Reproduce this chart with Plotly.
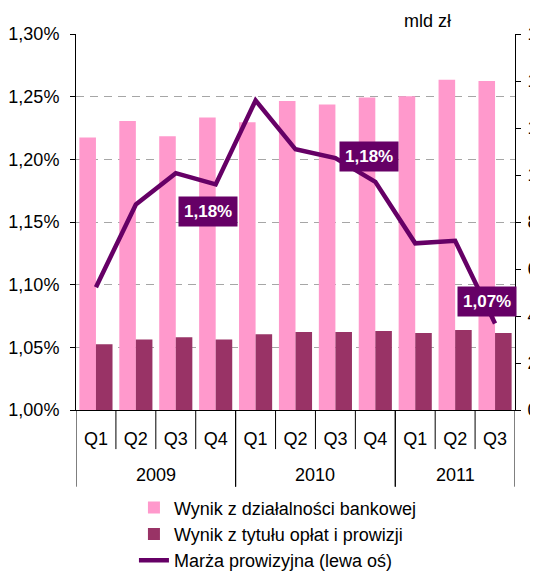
import plotly.graph_objects as go

years = ["2009"] * 4 + ["2010"] * 4 + ["2011"] * 3
quarters = ["Q1", "Q2", "Q3", "Q4", "Q1", "Q2", "Q3", "Q4", "Q1", "Q2", "Q3"]

wynik_bankowy = [11.6, 12.3, 11.65, 12.45, 12.25, 13.15, 13.0, 13.3, 13.35, 14.05, 14.0]
wynik_prowizje = [2.8, 3.0, 3.1, 3.0, 3.22, 3.32, 3.32, 3.36, 3.28, 3.4, 3.28]
marza = [1.098, 1.164, 1.189, 1.180, 1.247, 1.208, 1.201, 1.182, 1.133, 1.135, 1.069]

label_idx = [3, 7, 10]
label_text = ["1,18%", "1,18%", "1,07%"]
label_shift = [(-8, -27), (-6, 25), (-8, 22)]

left_ticks = [1.00, 1.05, 1.10, 1.15, 1.20, 1.25, 1.30]
left_ticktext = ["1,00%", "1,05%", "1,10%", "1,15%", "1,20%", "1,25%", "1,30%"]
right_ticks = [0, 2, 4, 6, 8, 10, 12, 14, 16]
right_ticktext = ["0", "2", "4", "6", "8", "1", "1", "1", "1"]

FONT = "Arial, Liberation Sans, sans-serif"
idx = list(range(len(quarters)))

fig = go.Figure()
fig.add_trace(go.Bar(x=idx, y=wynik_bankowy, name="Wynik z działalności bankowej",
                     marker=dict(color="#FF99CC", line=dict(width=0)), yaxis="y"))
fig.add_trace(go.Bar(x=idx, y=wynik_prowizje, name="Wynik z tytułu opłat i prowizji",
                     marker=dict(color="#993366", line=dict(width=0)), yaxis="y"))
fig.add_trace(go.Scatter(x=idx, y=marza, name="Marża prowizyjna (lewa oś)", mode="lines",
                         line=dict(color="#660066", width=4.5), yaxis="y2"))

for i, t, (dx, dy) in zip(label_idx, label_text, label_shift):
    fig.add_annotation(x=i, y=marza[i], xref="x", yref="y2", text="<b>" + t + "</b>",
                       showarrow=False, xshift=dx, yshift=dy, bgcolor="#660066",
                       borderpad=5, font=dict(family=FONT, size=17, color="white"))

fig.add_annotation(x=1, y=1, xref="paper", yref="paper", xanchor="right", yanchor="bottom",
                   yshift=1, xshift=-62, text="mld zł", showarrow=False,
                   font=dict(family=FONT, size=18, color="black"))

# year groups: labels and separators
groups = []
for i, yv in enumerate(years):
    if not groups or groups[-1][0] != yv:
        groups.append([yv, i, i])
    else:
        groups[-1][2] = i
for yv, a, b in groups:
    fig.add_annotation(x=(a + b) / 2, y=-0.174, xref="x", yref="paper", text=yv,
                       showarrow=False, yanchor="middle",
                       font=dict(family=FONT, size=18, color="black"))
    for bx in (a - 0.5, b + 0.5):
        fig.add_shape(type="line", xref="x", yref="paper", x0=bx, x1=bx, y0=0, y1=-0.204,
                      line=dict(color="black", width=1))

# the page places the figure 8px from the top-left corner of the window;
# the figure is taller than the window so the legend is not clipped by plotly
fig.update_layout(
    width=530, height=600,
    margin=dict(l=68, r=23, t=26, b=198, autoexpand=False),
    paper_bgcolor="white", plot_bgcolor="white",
    barmode="group", bargap=0.17, bargroupgap=0,
    font=dict(family=FONT, size=18, color="black"),
    showlegend=True,
    legend=dict(x=0.132, y=-0.211, xanchor="left", yanchor="top",
                font=dict(family=FONT, size=18, color="black"),
                tracegroupgap=0, bgcolor="rgba(0,0,0,0)"),
    xaxis=dict(type="linear", range=[-0.5, len(quarters) - 0.5], tickvals=idx, ticktext=quarters,
               showline=True, linecolor="black", linewidth=1, ticks="", showgrid=False,
               zeroline=False, ticklabelstandoff=12,
               tickfont=dict(family=FONT, size=18, color="black")),
    yaxis=dict(side="right", range=[0, 16], tickvals=right_ticks, ticktext=right_ticktext,
               showline=True, linecolor="black", ticks="outside", ticklen=5, tickcolor="black",
               showgrid=False, zeroline=False, ticklabelstandoff=3,
               tickfont=dict(family=FONT, size=18, color="black")),
    yaxis2=dict(side="left", overlaying="y", range=[1.0, 1.3], tickvals=left_ticks,
                ticktext=left_ticktext, showline=True, linecolor="black", ticks="outside",
                ticklen=5, tickcolor="black", showgrid=True, gridcolor="#A6A6A6",
                griddash="8px,6px", gridwidth=1.2, zeroline=False, ticklabelstandoff=7,
                tickfont=dict(family=FONT, size=18, color="black")),
)

# quarter separators (boundaries between categories)
for i in idx[1:]:
    if years[i] == years[i - 1]:
        fig.add_shape(type="line", xref="x", yref="paper", x0=i - 0.5, x1=i - 0.5, y0=0,
                      y1=-0.104, line=dict(color="black", width=1))

fig.write_html("out.html")
